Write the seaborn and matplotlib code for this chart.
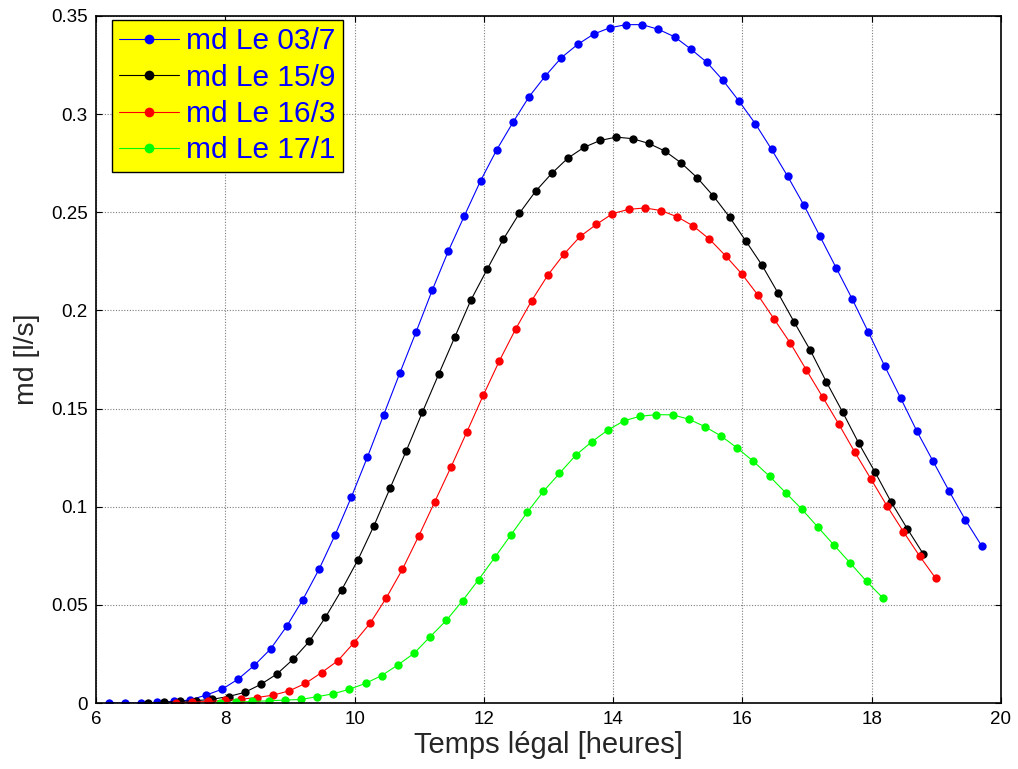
import numpy as np
import pandas as pd
import matplotlib
matplotlib.use("Agg")
import matplotlib.pyplot as plt
from matplotlib.ticker import FuncFormatter
import seaborn as sns

# ---------------- data ----------------
labels = ["md Le 03/7", "md Le 15/9", "md Le 16/3", "md Le 17/1"]

x_0307 = [6.20, 6.45, 6.70, 6.95, 7.20, 7.45, 7.70, 7.95, 8.20, 8.45, 8.70, 8.95,
          9.20, 9.45, 9.70, 9.95, 10.20, 10.45, 10.70, 10.95, 11.20, 11.45, 11.70,
          11.95, 12.20, 12.45, 12.70, 12.95, 13.20, 13.45, 13.70, 13.95, 14.20, 14.45,
          14.70, 14.95, 15.20, 15.45, 15.70, 15.95, 16.20, 16.45, 16.70, 16.95, 17.20,
          17.45, 17.70, 17.95, 18.20, 18.45, 18.70, 18.95, 19.20, 19.45, 19.70]
y_0307 = [0.0000, 0.0000, 0.0000, 0.0003, 0.0008, 0.0015, 0.0040, 0.0070, 0.0122, 0.0192,
          0.0275, 0.0391, 0.0527, 0.0681, 0.0857, 0.1049, 0.1254, 0.1468, 0.1681, 0.1889,
          0.2102, 0.2302, 0.2483, 0.2661, 0.2819, 0.2958, 0.3089, 0.3194, 0.3288, 0.3355,
          0.3408, 0.3440, 0.3456, 0.3456, 0.3432, 0.3394, 0.3332, 0.3264, 0.3172, 0.3065,
          0.2951, 0.2821, 0.2683, 0.2537, 0.2377, 0.2217, 0.2057, 0.1888, 0.1717, 0.1552,
          0.1384, 0.1231, 0.1078, 0.0932, 0.0801]

x_1509 = [6.80, 7.05, 7.30, 7.55, 7.80, 8.05, 8.30, 8.55, 8.80, 9.05, 9.30, 9.55, 9.80,
          10.05, 10.30, 10.55, 10.80, 11.05, 11.30, 11.55, 11.80, 12.05, 12.30, 12.55,
          12.80, 13.05, 13.30, 13.55, 13.80, 14.05, 14.30, 14.55, 14.80, 15.05, 15.30,
          15.55, 15.80, 16.05, 16.30, 16.55, 16.80, 17.05, 17.30, 17.55, 17.80, 18.05,
          18.30, 18.55, 18.80]
y_1509 = [0.0001, 0.0004, 0.0008, 0.0012, 0.0019, 0.0033, 0.0054, 0.0095, 0.0148, 0.0223,
          0.0314, 0.0437, 0.0576, 0.0728, 0.0903, 0.1095, 0.1285, 0.1482, 0.1674, 0.1864,
          0.2053, 0.2209, 0.2362, 0.2495, 0.2607, 0.2698, 0.2776, 0.2831, 0.2866, 0.2883,
          0.2875, 0.2851, 0.2812, 0.2752, 0.2676, 0.2583, 0.2476, 0.2355, 0.2232, 0.2089,
          0.1941, 0.1797, 0.1635, 0.1482, 0.1323, 0.1177, 0.1024, 0.0888, 0.0758]

x_1603 = [7.24, 7.49, 7.74, 7.99, 8.24, 8.49, 8.74, 8.99, 9.24, 9.49, 9.74, 9.99, 10.24,
          10.49, 10.74, 10.99, 11.24, 11.49, 11.74, 11.99, 12.24, 12.49, 12.74, 12.99,
          13.24, 13.49, 13.74, 13.99, 14.24, 14.49, 14.74, 14.99, 15.24, 15.49, 15.74,
          15.99, 16.24, 16.49, 16.74, 16.99, 17.24, 17.49, 17.74, 17.99, 18.24, 18.49,
          18.74, 18.99]
y_1603 = [0.0001, 0.0004, 0.0008, 0.0013, 0.0019, 0.0028, 0.0040, 0.0062, 0.0100, 0.0155,
          0.0215, 0.0307, 0.0406, 0.0535, 0.0681, 0.0849, 0.1025, 0.1201, 0.1383, 0.1567,
          0.1743, 0.1904, 0.2050, 0.2180, 0.2287, 0.2377, 0.2438, 0.2493, 0.2515, 0.2522,
          0.2509, 0.2477, 0.2430, 0.2363, 0.2278, 0.2186, 0.2078, 0.1956, 0.1834, 0.1696,
          0.1559, 0.1421, 0.1277, 0.1140, 0.1002, 0.0873, 0.0749, 0.0635]

x_1701 = [7.92, 8.17, 8.42, 8.67, 8.92, 9.17, 9.42, 9.67, 9.92, 10.17, 10.42, 10.67,
          10.92, 11.17, 11.42, 11.67, 11.92, 12.17, 12.42, 12.67, 12.92, 13.17, 13.42,
          13.67, 13.92, 14.17, 14.42, 14.67, 14.92, 15.17, 15.42, 15.67, 15.92, 16.17,
          16.42, 16.67, 16.92, 17.17, 17.42, 17.67, 17.92, 18.17]
y_1701 = [0.0000, 0.0004, 0.0008, 0.0011, 0.0015, 0.0018, 0.0032, 0.0047, 0.0070, 0.0100,
          0.0140, 0.0194, 0.0253, 0.0338, 0.0421, 0.0521, 0.0629, 0.0742, 0.0857, 0.0971,
          0.1078, 0.1170, 0.1262, 0.1331, 0.1391, 0.1438, 0.1461, 0.1469, 0.1468, 0.1446,
          0.1408, 0.1360, 0.1299, 0.1231, 0.1155, 0.1071, 0.0987, 0.0895, 0.0803, 0.0712,
          0.0620, 0.0536]

x_ticks = [6, 8, 10, 12, 14, 16, 18, 20]
y_ticks = [0, 0.05, 0.1, 0.15, 0.2, 0.25, 0.3, 0.35]
colors = ["#0000ff", "#000000", "#ff0000", "#00ff00"]

frames = []
for lab, xs, ys in zip(labels, [x_0307, x_1509, x_1603, x_1701],
                       [y_0307, y_1509, y_1603, y_1701]):
    frames.append(pd.DataFrame({"t": xs, "md": ys, "serie": lab}))
df = pd.concat(frames, ignore_index=True)

# ---------------- style ----------------
sns.set_style("white")
plt.rcParams["font.family"] = ["Liberation Sans", "DejaVu Sans"]

fig = plt.figure(figsize=(10.18, 7.69), dpi=100)
ax = fig.add_axes([96 / 1018, 66 / 769, 905 / 1018, 687 / 769])

sns.lineplot(data=df, x="t", y="md", hue="serie", hue_order=labels,
             palette=colors, marker="o", markersize=6, markeredgewidth=0,
             linewidth=0.8, sort=False, estimator=None, ax=ax)

ax.set_xlim(6, 20)
ax.set_ylim(0, 0.35)
ax.set_xticks(x_ticks)
ax.set_yticks(y_ticks)
ax.yaxis.set_major_formatter(FuncFormatter(lambda v, p: "%g" % v))
ax.xaxis.set_major_formatter(FuncFormatter(lambda v, p: "%g" % v))
ax.tick_params(direction="in", length=4, width=0.8, labelsize=13.5,
               top=True, right=True, bottom=True, left=True, colors="black", pad=6)
ax.grid(True, color="#7f7f7f", linestyle=(0, (1, 1.5)), linewidth=0.8)
for s in ax.spines.values():
    s.set_color("black")
    s.set_linewidth(1.2)

ax.set_xlabel("Temps légal [heures]", fontsize=21, labelpad=2)
ax.set_ylabel("md [l/s]", fontsize=20.5, labelpad=8)

leg = ax.legend(loc="upper left", bbox_to_anchor=(0.0173, 0.994), borderaxespad=0,
                fontsize=21.5, frameon=True, fancybox=False, facecolor="#ffff00",
                edgecolor="black", framealpha=1, handlelength=2.0,
                handletextpad=0.25, labelspacing=0.28, borderpad=0.24)
leg.get_frame().set_linewidth(1.0)
for t in leg.get_texts():
    t.set_color("#0000ff")
for h in leg.get_lines():
    h.set_markersize(7)

fig.savefig("out.png", dpi=100, facecolor="white")
